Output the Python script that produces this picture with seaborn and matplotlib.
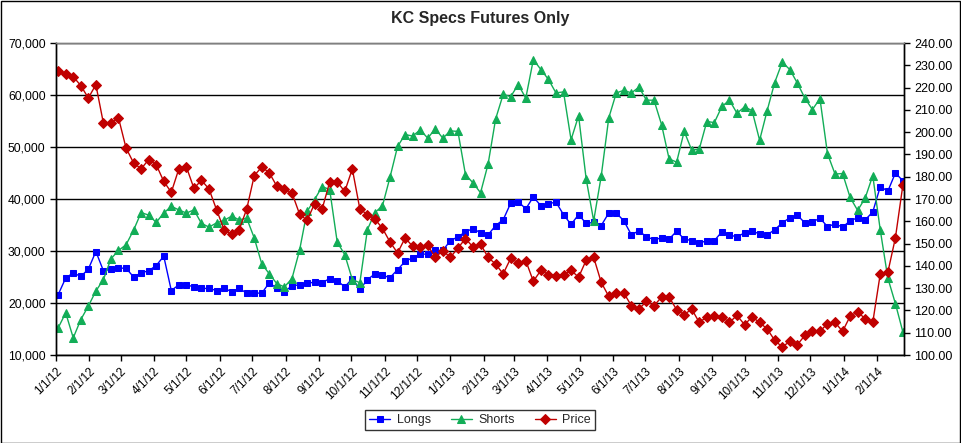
import matplotlib
matplotlib.use("Agg")
import matplotlib.pyplot as plt
import matplotlib.dates as mdates
import matplotlib.ticker as mticker
from matplotlib.patches import Rectangle
import pandas as pd
import seaborn as sns

# weekly COT report dates, first one on Tue 1/3/12
START_DATE = "2012-01-03"

longs = [
    21600, 24800, 25800, 25100, 26500, 29900, 26200, 26500, 26700, 26700,
    25000, 25800, 26200, 27200, 29000, 22400, 23500, 23500, 23100, 22800,
    22800, 22400, 22800, 22200, 22800, 21900, 21900, 21900, 23900, 22800,
    22200, 23300, 23500, 23800, 24000, 23900, 24700, 24300, 23100, 24700,
    22600, 24500, 25600, 25300, 24900, 26400, 28000, 28700, 29400, 29400,
    30100, 30100, 32000, 32700, 33700, 34300, 33500, 33100, 34900, 36000,
    39200, 39500, 38100, 40400, 38700, 39100, 39400, 37000, 35100, 37000,
    35300, 35500, 34900, 37300, 37300, 35800, 33100, 33900, 32700, 32200,
    32500, 32300, 33800, 32300, 32000, 31500, 32000, 32000, 33700, 33100,
    32700, 33500, 33800, 33300, 33100, 34100, 35400, 36400, 36900, 35400,
    35600, 36300, 34700, 35200, 34600, 35800, 36400, 36000, 37500, 42400,
    41500, 45000, 43500,
]

shorts = [
    15200, 18100, 13300, 16800, 19400, 22300, 24500, 28500, 30100, 31200,
    34000, 37400, 36900, 35500, 37300, 38600, 37900, 37300, 37900, 35300,
    34600, 35400, 35900, 36700, 36000, 36300, 32500, 27500, 25600, 23700,
    23100, 24700, 30100, 37600, 39900, 42400, 41800, 31700, 29300, 24500,
    23900, 34100, 37400, 38700, 44200, 50100, 52400, 52100, 53300, 51700,
    53500, 51700, 53100, 53000, 44700, 43100, 41200, 46700, 55400, 60100,
    59700, 62000, 59400, 66800, 64900, 63000, 60400, 60600, 51400, 56000,
    43900, 35800, 44400, 55600, 60400, 60900, 60400, 61500, 59000, 59000,
    54300, 47700, 47100, 53000, 49400, 49600, 54900, 54700, 57800, 59000,
    56500, 57700, 57000, 51300, 57000, 62400, 66300, 64900, 62300, 59400,
    57200, 59300, 48700, 44800, 44900, 40300, 37800, 40200, 44500, 34000,
    24800, 19900, 14400,
]

price = [
    227.4, 226.0, 224.9, 220.9, 215.3, 221.3, 204.0, 204.1, 206.4, 192.9,
    186.2, 183.5, 187.7, 185.4, 177.9, 173.0, 183.5, 184.4, 174.8, 178.4,
    174.5, 165.2, 156.2, 154.1, 156.2, 165.5, 180.5, 184.4, 181.7, 175.7,
    174.5, 172.7, 163.3, 160.4, 167.9, 165.5, 177.6, 177.6, 173.4, 183.5,
    165.5, 163.0, 161.0, 156.8, 150.7, 145.8, 152.5, 148.8, 148.5, 149.2,
    143.8, 146.8, 143.8, 148.0, 152.2, 148.5, 149.8, 143.8, 140.8, 136.4,
    143.4, 141.3, 142.3, 133.1, 138.0, 136.1, 135.6, 135.9, 138.0, 134.9,
    142.5, 143.8, 132.6, 126.3, 127.8, 127.8, 122.1, 120.6, 124.1, 122.1,
    126.0, 126.0, 120.3, 118.1, 120.6, 114.6, 117.1, 117.4, 117.1, 114.6,
    117.8, 113.6, 117.1, 114.6, 111.7, 106.6, 103.6, 106.1, 104.6, 108.8,
    110.6, 110.6, 114.1, 114.6, 110.6, 117.4, 119.4, 116.2, 114.6, 136.5,
    137.1, 152.5, 176.4,
]

BLUE = "#0000FF"
GREEN = "#12AD57"
RED = "#C00000"

sns.set_style("white")
plt.rcParams["font.family"] = ["Liberation Sans", "DejaVu Sans"]

dates = pd.date_range(START_DATE, periods=len(longs), freq="7D")
df = pd.DataFrame({"date": dates, "Longs": longs, "Shorts": shorts, "Price": price})

fig = plt.figure(figsize=(9.61, 4.43), dpi=100)
ax = fig.add_axes([56 / 961, 88 / 443, 848 / 961, 312 / 443])
ax2 = ax.twinx()

sns.lineplot(data=df, x="date", y="Longs", ax=ax, color=BLUE, marker="s",
             markersize=4.8, markeredgecolor=BLUE, linewidth=1, label="Longs",
             legend=False)
sns.lineplot(data=df, x="date", y="Shorts", ax=ax, color=GREEN, marker="^",
             markersize=6.3, markeredgecolor=GREEN, linewidth=1, label="Shorts",
             legend=False)
sns.lineplot(data=df, x="date", y="Price", ax=ax2, color=RED, marker="D",
             markersize=4.8, markeredgecolor=RED, linewidth=1, label="Price",
             legend=False)

ax.set_ylim(10000, 70000)
ax.set_yticks(range(10000, 70001, 10000))
ax.yaxis.set_major_formatter(mticker.StrMethodFormatter("{x:,.0f}"))
ax2.set_ylim(100, 240)
ax2.set_yticks(range(100, 241, 10))
ax2.yaxis.set_major_formatter(mticker.StrMethodFormatter("{x:.2f}"))

ax.set_xlim(pd.Timestamp("2012-01-01"), pd.Timestamp("2014-02-26"))
ax.xaxis.set_major_locator(mdates.MonthLocator())
ax.xaxis.set_major_formatter(
    mticker.FuncFormatter(lambda v, _: (lambda d: f"{d.month}/{d.day}/{d:%y}")(mdates.num2date(v)))
)

ax.set_xlabel("")
ax.set_ylabel("")
ax2.set_ylabel("")

ax.yaxis.grid(True, color="black", linewidth=1)
ax.xaxis.grid(False)
ax2.grid(False)

for a in (ax, ax2):
    a.spines["top"].set_color("#808080")
    a.spines["left"].set_color("black")
    a.spines["right"].set_color("black")
    a.spines["bottom"].set_color("black")
    for s in a.spines.values():
        s.set_linewidth(1)

ax.tick_params(axis="y", which="major", direction="out", length=4, width=1,
               colors="black", labelsize=8.7, left=True)
ax.tick_params(axis="x", which="major", direction="out", length=4, width=1,
               colors="black", labelsize=8.5, bottom=True)
ax2.tick_params(axis="y", which="major", direction="out", length=4, width=1,
                colors="black", labelsize=9, right=True)
for lbl in ax.get_xticklabels():
    lbl.set_rotation(45)
    lbl.set_ha("right")
    lbl.set_rotation_mode("anchor")

fig.suptitle("KC Specs Futures Only", x=0.5, y=0.975, fontsize=11.5,
             fontweight="bold")

h1, l1 = ax.get_legend_handles_labels()
h2, l2 = ax2.get_legend_handles_labels()
leg = fig.legend(h1 + h2, l1 + l2, loc="center", bbox_to_anchor=(0.4995, 0.052),
                 ncol=3, fontsize=9, frameon=True, fancybox=False,
                 edgecolor="black", handlelength=1.7, handletextpad=0.5,
                 columnspacing=1.6, borderpad=0.35)
leg.get_frame().set_linewidth(1)

fig.patches.append(Rectangle((0.0008, 0.001), 0.998, 0.997, transform=fig.transFigure,
                             fill=False, edgecolor="black", linewidth=1))

fig.savefig("out.png", dpi=100)
